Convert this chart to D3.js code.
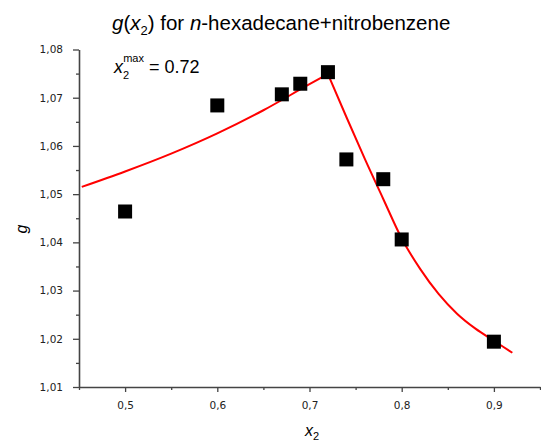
<!DOCTYPE html>
<html>
<head>
<meta charset="utf-8">
<script src="https://cdn.jsdelivr.net/npm/d3@7"></script>
<style>
  body { margin: 0; background: #fff; }
  svg { display: block; }
</style>
</head>
<body>
<svg id="chart"></svg>
<script>
// valeurs mesurees (carres noirs)
const xData = [0.50, 0.60, 0.67, 0.69, 0.72, 0.74, 0.78, 0.80, 0.90];
const gData = [1.0464, 1.0684, 1.0707, 1.0729, 1.0753, 1.0572, 1.0531, 1.0406, 1.0194];

// courbe rouge, deux branches de part et d'autre de x2max
const xFitLeft = [0.453, 0.50, 0.55, 0.60, 0.65, 0.70, 0.72];
const gFitLeft = [1.0515, 1.0547, 1.0584, 1.0626, 1.0674, 1.0728, 1.0749];
const xFitRight = [0.72, 0.74, 0.76, 0.78, 0.80, 0.82, 0.84, 0.86, 0.88, 0.90, 0.92];
const gFitRight = [1.0749, 1.0660, 1.0573, 1.0490, 1.0408, 1.0345, 1.0293, 1.0252, 1.0221, 1.0196, 1.0171];

const xTicks = [0.5, 0.6, 0.7, 0.8, 0.9];
const yTicks = [1.01, 1.02, 1.03, 1.04, 1.05, 1.06, 1.07, 1.08];

const svgWidth = 541, svgHeight = 444;
const margin = { top: 49.5, right: 1, bottom: 57, left: 79 };
const width = svgWidth - margin.left - margin.right;
const height = svgHeight - margin.top - margin.bottom;

const svg = d3.select("#chart")
    .attr("width", svgWidth)
    .attr("height", svgHeight);

const g = svg.append("g")
    .attr("transform", "translate(" + margin.left + "," + margin.top + ")");

const x = d3.scaleLinear().domain([0.45, 0.95]).range([0, width]);
const y = d3.scaleLinear().domain([1.01, 1.08]).range([height, 0]);

const comma = s => s.replace(".", ",");

// graduations secondaires
const xMinor = d3.range(0.45, 0.951, 0.05).filter(v => !xTicks.some(t => Math.abs(t - v) < 1e-6));
const yMinor = d3.range(1.015, 1.08, 0.01);

g.append("g")
    .attr("transform", "translate(0," + height + ")")
    .call(d3.axisBottom(x).tickValues(xMinor).tickSize(3).tickFormat(""))
    .call(a => a.select(".domain").remove());
g.append("g")
    .call(d3.axisLeft(y).tickValues(yMinor).tickSize(3).tickFormat(""))
    .call(a => a.select(".domain").remove());

g.append("g")
    .attr("transform", "translate(0," + height + ")")
    .call(d3.axisBottom(x).tickValues(xTicks).tickSize(5).tickSizeOuter(0).tickPadding(10)
        .tickFormat(d => comma(d3.format(".1f")(d))));

g.append("g")
    .call(d3.axisLeft(y).tickValues(yTicks).tickSize(6).tickSizeOuter(0).tickPadding(10)
        .tickFormat(d => comma(d3.format(".2f")(d))));

g.selectAll(".tick line").attr("stroke", "#444").attr("stroke-width", 1.3);
g.selectAll(".domain").attr("stroke", "#444").attr("stroke-width", 1.6);
g.selectAll(".tick text")
    .attr("fill", "#222")
    .style("font-family", "DejaVu Sans")
    .style("font-size", "10.5px");

// courbe
function branch(xs, gs) {
    const line = d3.line()
        .curve(d3.curveMonotoneX)
        .x((d, i) => x(xs[i]))
        .y(d => y(d));
    g.append("path")
        .datum(gs)
        .attr("fill", "none")
        .attr("stroke", "#f00")
        .attr("stroke-width", 2)
        .attr("stroke-linejoin", "round")
        .attr("d", line);
}
branch(xFitLeft, gFitLeft);
branch(xFitRight, gFitRight);

// points
const s = 14;
g.selectAll("rect.pt")
    .data(gData)
    .enter().append("rect")
    .attr("class", "pt")
    .attr("x", (d, i) => x(xData[i]) - s / 2)
    .attr("y", d => y(d) - s / 2)
    .attr("width", s)
    .attr("height", s)
    .attr("fill", "#000");

// textes
const font = "Liberation Sans, Arial, sans-serif";

const title = svg.append("text")
    .attr("x", 112).attr("y", 30)
    .style("font-family", font).style("font-size", "20.5px").attr("fill", "#000");
title.append("tspan").style("font-style", "italic").text("g");
title.append("tspan").text("(");
title.append("tspan").style("font-style", "italic").text("x");
title.append("tspan").attr("dy", 5).style("font-size", "13px").text("2");
title.append("tspan").attr("dy", -5).text(") for ");
title.append("tspan").style("font-style", "italic").text("n");
title.append("tspan").text("-hexadecane+nitrobenzene");

const note = svg.append("text")
    .attr("x", 114).attr("y", 73)
    .style("font-family", font).style("font-size", "18px").attr("fill", "#000");
note.append("tspan").style("font-style", "italic").text("x");
note.append("tspan").attr("dy", 6).style("font-size", "11px").text("2");
note.append("tspan").attr("dx", -6).attr("dy", -17).style("font-size", "11px").text("max");
note.append("tspan").attr("dy", 11).text(" = 0.72");

const xl = svg.append("text")
    .attr("x", 305).attr("y", 436)
    .style("font-family", font).style("font-size", "16px").attr("fill", "#000");
xl.append("tspan").style("font-style", "italic").text("x");
xl.append("tspan").attr("dy", 4).style("font-size", "11px").text("2");

svg.append("text")
    .attr("transform", "translate(27,229) rotate(-90)")
    .attr("text-anchor", "middle")
    .style("font-family", font).style("font-size", "16px").style("font-style", "italic")
    .attr("fill", "#000")
    .text("g");
</script>
</body>
</html>
